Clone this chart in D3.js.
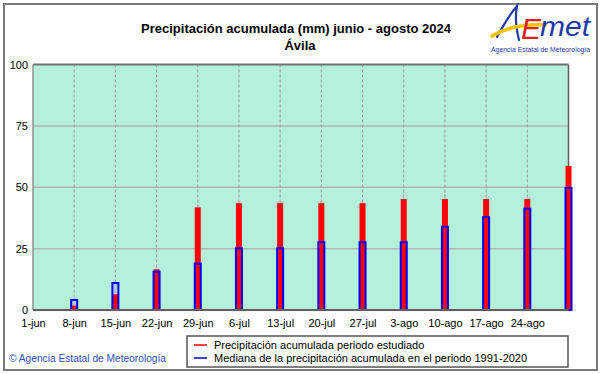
<!DOCTYPE html>
<html><head><meta charset="utf-8">
<script src="https://cdn.jsdelivr.net/npm/d3@7"></script>
<style>body{margin:0;background:#fff}svg{display:block}text{font-family:"Liberation Sans",Arial,sans-serif}</style>
</head><body>
<script>
const tickLabels = ["1-jun","8-jun","15-jun","22-jun","29-jun","6-jul","13-jul","20-jul","27-jul","3-ago","10-ago","17-ago","24-ago"];
const tickDays = [0,7,14,21,28,35,42,49,56,63,70,77,84];
const barDays = [7,14,21,28,35,42,49,56,63,70,77,84,91];
const observed = [1.8,6.4,16.6,41.8,43.5,43.5,43.5,43.5,45.2,45.2,45.2,45.2,58.7];
const median = [4.1,11.0,15.6,18.9,25.1,25.1,27.6,27.6,27.6,33.9,37.8,41.3,49.7];
const yTicks = [0,25,50,75,100];

const W=601,H=374;
const svg=d3.select("body").append("svg").attr("width",W).attr("height",H);
const x=d3.scaleLinear().domain([0,91]).range([33,568.5]);
const y=d3.scaleLinear().domain([0,100]).range([310,64.5]);

// outer frame
svg.append("rect").attr("x",4).attr("y",4).attr("width",593).attr("height",366)
  .attr("fill","#fff").attr("stroke","#7a7a7a").attr("stroke-width",2);

// plot background
svg.append("rect").attr("x",x(0)).attr("y",y(100)).attr("width",x(91)-x(0)).attr("height",y(0)-y(100)).attr("fill","#b4f0da");

// horizontal grid
svg.append("g").selectAll("line").data([25,50,75]).join("line")
  .attr("x1",x(0)).attr("x2",x(91)).attr("y1",d=>y(d)).attr("y2",d=>y(d))
  .attr("stroke","#b4b4b4").attr("stroke-width",1.5);
// vertical dashed grid
svg.append("g").selectAll("line").data(tickDays.slice(1)).join("line")
  .attr("x1",d=>x(d)).attr("x2",d=>x(d)).attr("y1",y(100)).attr("y2",y(0))
  .attr("stroke","#999").attr("stroke-width",1).attr("stroke-dasharray","3,2");

// plot border
svg.append("line").attr("x1",x(0)).attr("x2",x(91)).attr("y1",y(100)).attr("y2",y(100)).attr("stroke","#707070").attr("stroke-width",2);
svg.append("line").attr("x1",x(0)).attr("x2",x(0)).attr("y1",y(100)).attr("y2",y(0)).attr("stroke","#909090").attr("stroke-width",1.5);
svg.append("line").attr("x1",x(91)).attr("x2",x(91)).attr("y1",y(100)).attr("y2",y(0)).attr("stroke","#606060").attr("stroke-width",1.5);

// bars
const bars=barDays.map((d,i)=>({d,o:observed[i],m:median[i]}));
const g=svg.append("g");
g.selectAll(".mf").data(bars).join("rect").attr("class","mf")
  .attr("x",b=>x(b.d)-3).attr("width",6).attr("y",b=>y(b.m)).attr("height",b=>y(0)-y(b.m)).attr("fill","#b4c8d6");
g.selectAll(".ob").data(bars).join("rect").attr("class","ob")
  .attr("x",b=>x(b.d)-3).attr("width",6).attr("y",b=>y(b.o)).attr("height",b=>y(0)-y(b.o)).attr("fill","#ff0000");
g.selectAll(".md").data(bars).join("rect").attr("class","md")
  .attr("x",b=>x(b.d)-3).attr("width",6).attr("y",b=>y(b.m)).attr("height",b=>y(0)-y(b.m))
  .attr("fill","none").attr("stroke","#0000ff").attr("stroke-width",2);

// bottom axis line
svg.append("line").attr("x1",x(0)).attr("x2",x(91)).attr("y1",y(0)).attr("y2",y(0)).attr("stroke","#606060").attr("stroke-width",2);

// axes labels
const ya=svg.append("g").attr("transform",`translate(${x(0)},0)`)
  .call(d3.axisLeft(y).tickValues(yTicks).tickSize(0).tickPadding(5));
ya.select(".domain").remove();
ya.selectAll("text").attr("font-size",11).attr("fill","#000").attr("font-family","Liberation Sans, Arial, sans-serif");
const xa=svg.append("g").attr("transform",`translate(0,${y(0)})`)
  .call(d3.axisBottom(x).tickValues(tickDays).tickFormat((d,i)=>tickLabels[i]).tickSize(0).tickPadding(9));
xa.select(".domain").remove();
xa.selectAll("text").attr("font-size",11).attr("fill","#000").attr("font-family","Liberation Sans, Arial, sans-serif");

// title
svg.append("text").attr("x",296).attr("y",33).attr("text-anchor","middle").attr("font-weight","bold").attr("font-size",13)
  .text("Precipitación acumulada (mm) junio - agosto 2024");
svg.append("text").attr("x",300).attr("y",50).attr("text-anchor","middle").attr("font-weight","bold").attr("font-size",13)
  .text("Ávila");

// logo
const lg=svg.append("g");
lg.append("path").attr("d","M497,37 C503,26 509,15 517,6 C515,16 516,28 519,40").attr("fill","none").attr("stroke","#1f3aa8").attr("stroke-width",2.2).attr("stroke-linecap","round");
lg.append("path").attr("d","M492,36 C505,28 520,24 545,25").attr("fill","none").attr("stroke","#f5c400").attr("stroke-width",3.5).attr("stroke-linecap","round");
lg.append("text").attr("x",521).attr("y",39).attr("font-size",30).attr("font-style","italic").attr("fill","#e02020").attr("font-family","DejaVu Serif, serif").text("E");
lg.append("text").attr("x",540).attr("y",36).attr("font-size",27).attr("font-style","italic").attr("fill","#1f3aa8").attr("font-family","DejaVu Serif, serif").attr("textLength",50).attr("lengthAdjust","spacingAndGlyphs").text("met");
lg.append("text").attr("x",491).attr("y",52).attr("font-size",7).attr("fill","#1f3aa8").attr("textLength",99).attr("lengthAdjust","spacingAndGlyphs").text("Agencia Estatal de Meteorología");

// legend
svg.append("rect").attr("x",187).attr("y",336).attr("width",381).attr("height",31).attr("fill","#fff").attr("stroke","#555").attr("stroke-width",1.5);
const leg=[["#ff0000","Precipitación acumulada periodo estudiado",349],["#0000ff","Mediana de la precipitación acumulada en el periodo 1991-2020",362]];
leg.forEach(l=>{
  svg.append("line").attr("x1",194).attr("x2",207).attr("y1",l[2]-4).attr("y2",l[2]-4).attr("stroke",l[0]).attr("stroke-width",1.5);
  svg.append("text").attr("x",214).attr("y",l[2]).attr("font-size",11).attr("fill","#000").text(l[1]);
});

// copyright
svg.append("text").attr("x",9).attr("y",362).attr("font-size",10).attr("fill","#3050c0").attr("textLength",157).attr("lengthAdjust","spacingAndGlyphs").text("© Agencia Estatal de Meteorología");
</script>
</body></html>
